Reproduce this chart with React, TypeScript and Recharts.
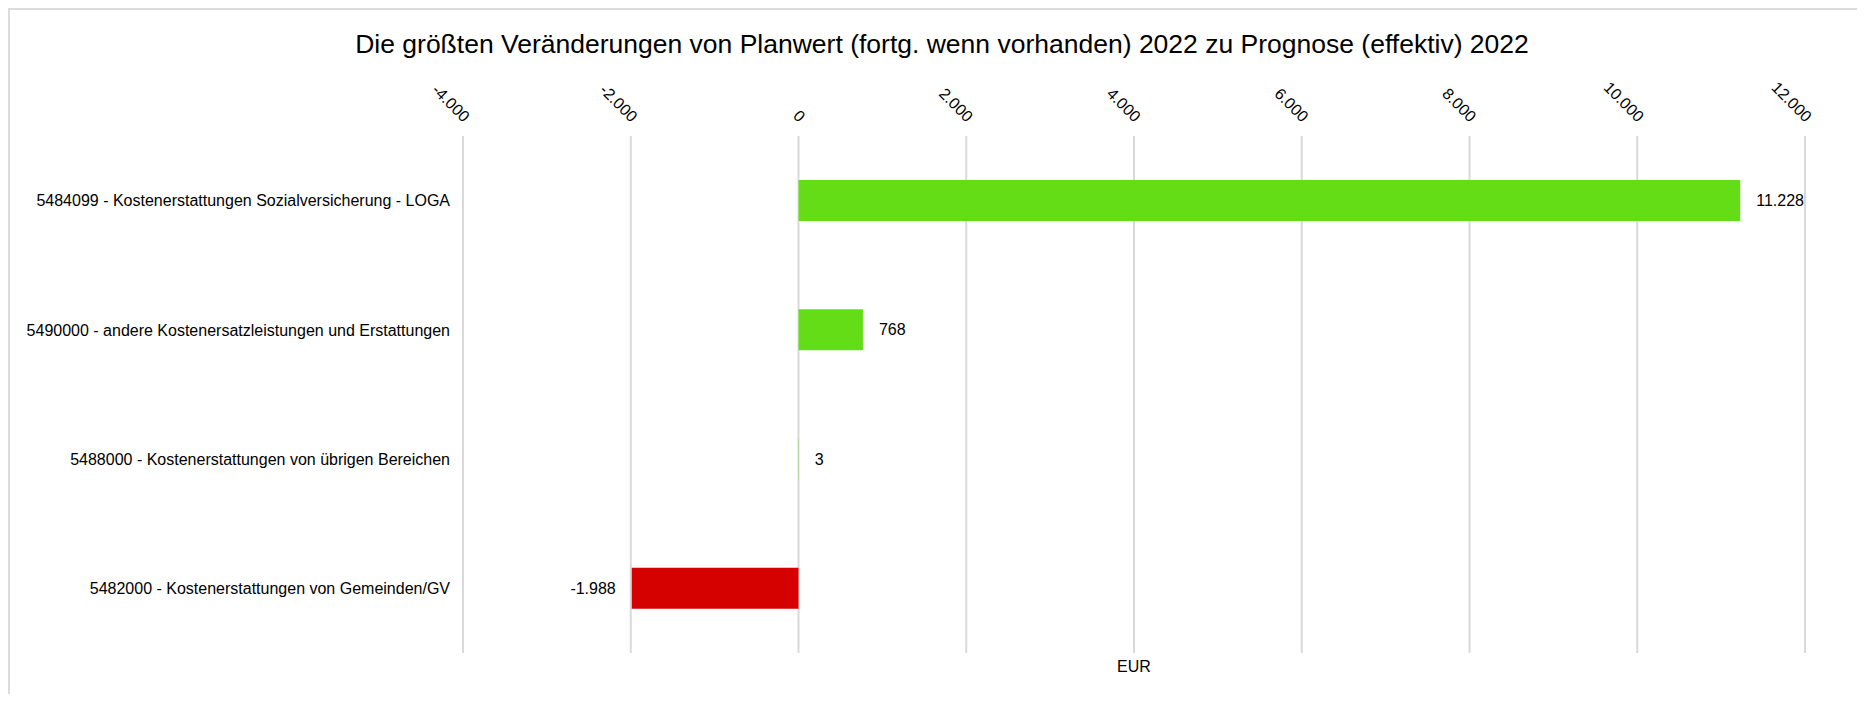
import React from 'react';
import { BarChart, Bar, XAxis, YAxis, CartesianGrid, Cell, LabelList } from 'recharts';

const categories = [
  '5484099 - Kostenerstattungen Sozialversicherung - LOGA',
  '5490000 - andere Kostenersatzleistungen und Erstattungen',
  '5488000 - Kostenerstattungen von übrigen Bereichen',
  '5482000 - Kostenerstattungen von Gemeinden/GV',
];
const values = [11228, 768, 3, -1988];
const xTicks = [-4000, -2000, 0, 2000, 4000, 6000, 8000, 10000, 12000];
const title = 'Die größten Veränderungen von Planwert (fortg. wenn vorhanden) 2022 zu Prognose (effektiv) 2022';
const unitLabel = 'EUR';

const POS_COLOR = '#64DD17';
const NEG_COLOR = '#D50000';
const FONT = 'Arial, "Liberation Sans", sans-serif';

const data = categories.map((name, i) => ({ name, value: values[i] }));

function fmt(v: number): string {
  const s = Math.abs(v).toString().replace(/\B(?=(\d{3})+(?!\d))/g, '.');
  return v < 0 ? '-' + s : s;
}

const TopTick = (props: any) => {
  const { x, y, payload } = props;
  const ty = y - 5;
  return (
    <text
      x={x}
      y={ty}
      textAnchor="end"
      fontSize={16}
      fontFamily={FONT}
      fill="#000"
      transform={`rotate(45, ${x}, ${ty})`}
    >
      {fmt(payload.value)}
    </text>
  );
};

export default function App() {
  return (
    <div
      style={{
        position: 'relative',
        width: 1857,
        height: 686,
        borderTop: '2px solid #dcdcdc',
        borderLeft: '2px solid #dcdcdc',
        overflow: 'hidden',
        boxSizing: 'border-box',
        fontFamily: FONT,
      }}
    >
      <div
        style={{
          position: 'absolute',
          left: 100,
          width: 1664,
          top: 19,
          textAlign: 'center',
          fontSize: 26.5,
          fontFamily: FONT,
          color: '#000',
          whiteSpace: 'nowrap',
        }}
      >
        {title}
      </div>
      <BarChart
        width={1845}
        height={680}
        data={data}
        layout="vertical"
        margin={{ top: 0, right: 50, left: 0, bottom: 0 }}
      >
        <CartesianGrid horizontal={false} vertical stroke="#d9d9d9" strokeWidth={2} />
        <XAxis
          type="number"
          orientation="top"
          domain={[-4000, 12000]}
          ticks={xTicks}
          interval={0}
          height={126}
          axisLine={false}
          tickLine={false}
          tick={<TopTick />}
        />
        <XAxis
          xAxisId="bottom"
          type="number"
          orientation="bottom"
          domain={[-4000, 12000]}
          ticks={xTicks}
          height={37}
          axisLine={false}
          tickLine={false}
          tick={false}
          label={{ value: unitLabel, position: 'insideTop', offset: 8, fill: '#000', fontSize: 16, fontFamily: FONT }}
        />
        <YAxis
          type="category"
          dataKey="name"
          width={453}
          axisLine={false}
          tickLine={false}
          tickMargin={7}
          interval={0}
          tick={{ fill: '#000', fontSize: 16, fontFamily: FONT }}
        />
        <Bar dataKey="value" barSize={41} isAnimationActive={false}>
          {data.map((d, i) => (
            <Cell key={i} fill={d.value >= 0 ? POS_COLOR : NEG_COLOR} />
          ))}
          <LabelList
            dataKey="value"
            position="right"
            offset={16}
            formatter={(v: any) => fmt(Number(v))}
            fill="#000"
            fontSize={16}
            fontFamily={FONT}
          />
        </Bar>
      </BarChart>
    </div>
  );
}
